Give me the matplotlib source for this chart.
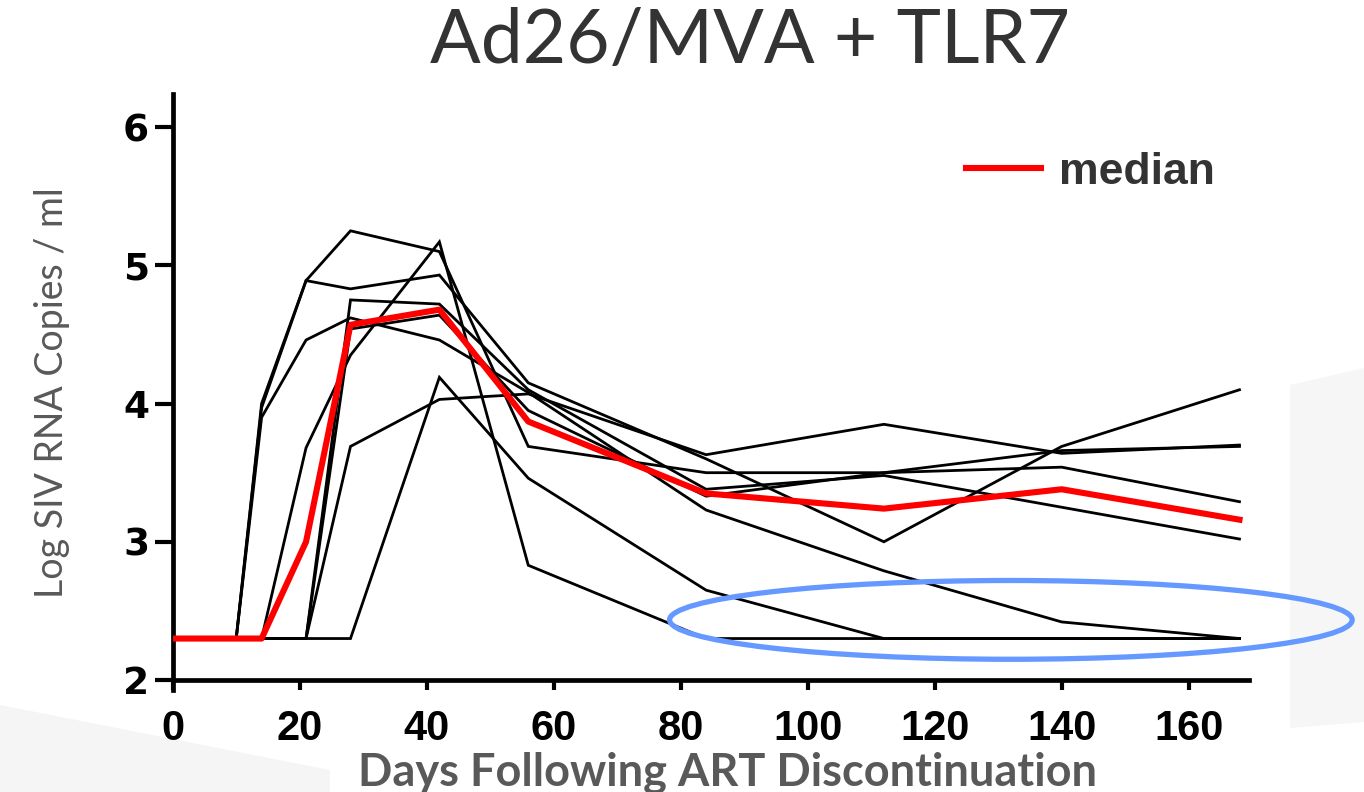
import matplotlib
matplotlib.use("Agg")
import matplotlib.pyplot as plt
from matplotlib.patches import Ellipse, Polygon
import numpy as np

# ---- data ----
days = [0, 10, 14, 21, 28, 42, 56, 84, 112, 140, 168]
animal_1 = [2.3, 2.3, 4.00, 4.89, 5.25, 5.10, 3.69, 3.50, 3.50, 3.54, 3.29]
animal_2 = [2.3, 2.3, 3.97, 4.89, 4.83, 4.93, 4.15, 3.60, 3.00, 3.69, 4.10]
animal_3 = [2.3, 2.3, 3.90, 4.46, 4.62, 4.46, 4.08, 3.23, 2.79, 2.42, 2.30]
animal_4 = [2.3, 2.3, 2.3, 3.68, 4.35, 5.17, 2.83, 2.30, 2.30, 2.30, 2.30]
animal_5 = [2.3, 2.3, 2.3, 2.3, 4.75, 4.72, 4.10, 3.38, 3.48, 3.25, 3.02]
animal_6 = [2.3, 2.3, 2.3, 2.3, 4.54, 4.64, 3.95, 3.33, 3.50, 3.66, 3.69]
animal_7 = [2.3, 2.3, 2.3, 2.3, 2.3, 4.19, 3.46, 2.65, 2.30, 2.30, 2.30]
animal_8 = [2.3, 2.3, 2.3, 2.3, 3.69, 4.03, 4.07, 3.63, 3.85, 3.64, 3.70]
animals = [animal_1, animal_2, animal_3, animal_4, animal_5, animal_6, animal_7, animal_8]
median = [2.3, 2.3, 2.3, 3.00, 4.57, 4.68, 3.87, 3.35, 3.24, 3.38, 3.16]

x_ticks = [0, 20, 40, 60, 80, 100, 120, 140, 160]
y_ticks = [2, 3, 4, 5, 6]
title = "Ad26/MVA + TLR7"
x_label = "Days Following ART Discontinuation"
y_label = "Log SIV RNA Copies / ml"
legend_label = "median"

# highlight ellipse (data coordinates)
ell_center = (132.0, 2.435)
ell_size = (107.5, 0.57)

W, H = 1364, 792
fig = plt.figure(figsize=(W / 100, H / 100), dpi=100)

# faint slide background shapes
fig.patches.append(Polygon([(1290 / W, 1 - 385 / H), (1, 1 - 368 / H), (1, 1 - 722 / H), (1290 / W, 1 - 728 / H)],
                           closed=True, transform=fig.transFigure, facecolor="#f6f6f6", edgecolor="none", zorder=0))
fig.patches.append(Polygon([(0, 1 - 705 / H), (330 / W, 1 - 770 / H), (330 / W, 0), (0, 0)],
                           closed=True, transform=fig.transFigure, facecolor="#f5f5f5", edgecolor="none", zorder=0))

left, right = 172.7 / W, 1249 / W
bottom, top = 1 - 680 / H, 1 - 94 / H
ax = fig.add_axes([left, bottom, right - left, top - bottom])
ax.patch.set_alpha(0)
ax.set_zorder(2)

for a in animals:
    ax.plot(days, a, color="black", lw=2.0, solid_joinstyle="miter", zorder=2)
ax.plot(days, median, color="#ff0000", lw=4.4, zorder=3, label=legend_label)

ax.set_xlim(0, 169.5)
ax.set_ylim(2, 6.24)
ax.set_xticks(x_ticks)
ax.set_yticks(y_ticks)

for s in ["top", "right"]:
    ax.spines[s].set_visible(False)
for s in ["left", "bottom"]:
    ax.spines[s].set_linewidth(3.4)
ax.spines["left"].set_bounds(1.93, 6.24)

ax.tick_params(axis="x", direction="out", length=7, width=3, pad=14)
ax.tick_params(axis="y", direction="out", length=13, width=3, pad=4)
for lab in ax.get_xticklabels():
    lab.set_fontfamily("Liberation Sans")
    lab.set_fontweight("bold")
    lab.set_fontsize(30)
for lab in ax.get_yticklabels():
    lab.set_fontfamily("DejaVu Sans")
    lab.set_fontweight("bold")
    lab.set_fontsize(27)

ell = Ellipse(ell_center, ell_size[0], ell_size[1], facecolor="none", edgecolor="#6699ff",
              lw=3.8, clip_on=False, zorder=4)
ax.add_patch(ell)

leg = ax.legend(loc="center left", bbox_to_anchor=(0.737, 0.866), frameon=False,
                prop={"family": "Liberation Sans", "weight": "bold", "size": 32},
                handlelength=1.7, handletextpad=0.4, borderpad=0, borderaxespad=0)
for t in leg.get_texts():
    t.set_color("#333333")

fig.text(750 / W, 1 - 42 / H, title, ha="center", va="center", fontsize=54,
         family="Lato", color="#333333")
fig.text(727 / W, 1 - 786 / H, x_label, ha="center", va="baseline", fontsize=32.5,
         family="Lato", weight="bold", color="#595959")
fig.text(52 / W, 1 - 393 / H, y_label, ha="center", va="center", rotation=90, fontsize=27,
         family="Lato", color="#595959")

fig.savefig("out.png", dpi=100)
